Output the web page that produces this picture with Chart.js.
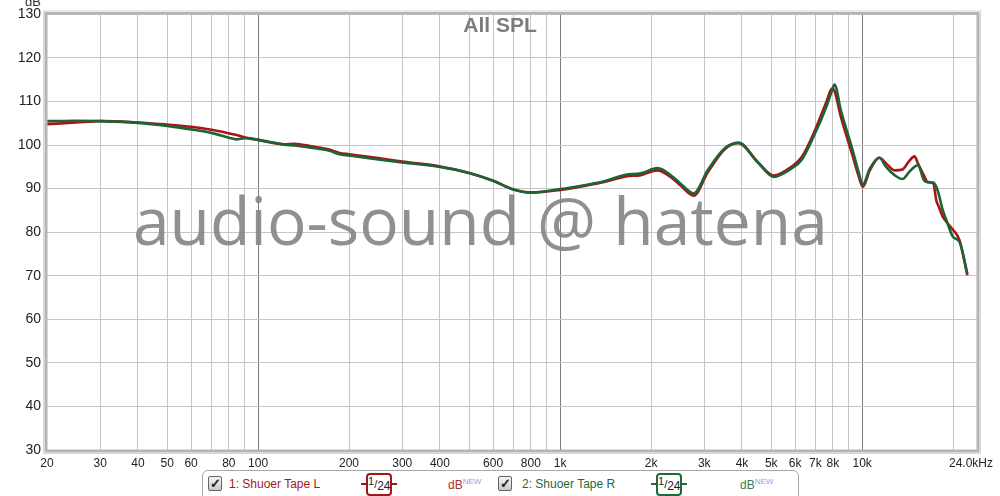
<!DOCTYPE html>
<html>
<head>
<meta charset="utf-8">
<script src="https://cdn.jsdelivr.net/npm/chart.js@4/dist/chart.umd.min.js"></script>
<style>
  html, body { margin: 0; padding: 0; background: #fff; }
  #wrap { position: relative; width: 1000px; height: 496px; overflow: hidden; font-family: "Liberation Sans", Arial, sans-serif; }
  canvas { position: absolute; left: 0; top: 0; }
  .lg { position: absolute; left: 202px; top: 470px; width: 595px; height: 40px; border: 1px solid #a8a8a8; border-radius: 6px; background: #fff; }
  .cb { position: absolute; top: 476px; width: 12px; height: 13px; border: 1px solid #666; border-radius: 2px; background: linear-gradient(#f4f4f4, #c8c8c8); font-size: 13px; line-height: 13px; text-align: center; color: #222; font-weight: bold; }
  .nm { position: absolute; top: 477px; font-size: 12px; }
  .oct { position: absolute; top: 473px; width: 22px; height: 19px; border-radius: 4px; font-size: 11px; line-height: 19px; text-align: center; color: #222; background: #fff; }
  .stub { position: absolute; top: 483px; height: 2px; }
  .db { position: absolute; top: 477px; font-size: 12px; }
  .db sup { font-size: 8px; color: #9a9ae6; vertical-align: 5px; }
</style>
</head>
<body>
<div id="wrap">
  <canvas id="c" width="1000" height="496"></canvas>
  <div class="lg"></div>
  <div class="cb" style="left:208px">✓</div>
  <div class="nm" style="left:229px;color:#9c1c1c">1: Shuoer Tape L</div>
  <div class="stub" style="left:361px;width:36px;background:#a01818"></div>
  <div class="oct" style="left:366px;border:2px solid #a01818"><span style="font-size:11px;position:relative;top:-3px">1</span>/<span style="font-size:12px;position:relative;top:2px">24</span></div>
  <div class="db" style="left:448px;color:#b03030">dB<sup>NEW</sup></div>
  <div class="cb" style="left:498px">✓</div>
  <div class="nm" style="left:522px;color:#1e6b3a">2: Shuoer Tape R</div>
  <div class="stub" style="left:651px;width:36px;background:#1e6b3a"></div>
  <div class="oct" style="left:656px;border:2px solid #1e6b3a"><span style="font-size:11px;position:relative;top:-3px">1</span>/<span style="font-size:12px;position:relative;top:2px">24</span></div>
  <div class="db" style="left:740px;color:#3a7a50">dB<sup>NEW</sup></div>
</div>
<script>
// ---- data (frequency in Hz, SPL in dB) ----
const freqs = [20, 25, 30, 40, 50, 60, 70, 80, 85, 90, 100, 110, 122, 132, 150, 172, 186, 200, 250, 300, 400, 500, 600, 700, 800, 1000, 1200, 1400, 1650, 1850, 2100, 2360, 2500, 2770, 3080, 3500, 3900, 4500, 5100, 5800, 6300, 6900, 7600, 7950, 8100, 8500, 9300, 9700, 10050, 10600, 11400, 12000, 12800, 13600, 14300, 14900, 15300, 16000, 16500, 17200, 17600, 17900, 18500, 19000, 20000, 21000, 22300];
const splL  = [104.8, 105.2, 105.5, 105.2, 104.7, 104.2, 103.5, 102.7, 102.3, 101.8, 101.2, 100.6, 100.2, 100.3, 99.7, 99.0, 98.2, 97.9, 97.0, 96.2, 95.1, 93.6, 91.8, 89.8, 89.1, 89.7, 90.6, 91.5, 92.8, 93.1, 94.2, 92.3, 90.8, 88.4, 93.7, 99.0, 100.5, 96.2, 93.0, 94.9, 97.2, 102.6, 109.8, 113.0, 112.4, 106.5, 97.5, 93.2, 90.4, 94.2, 97.1, 95.8, 94.2, 94.4, 96.3, 97.4, 95.8, 93.1, 91.5, 91.2, 87.3, 86.0, 83.5, 82.4, 80.5, 78.2, 70.1];
const splR  = [105.5, 105.6, 105.5, 105.1, 104.4, 103.6, 102.8, 101.7, 101.3, 101.6, 101.2, 100.7, 100.1, 99.9, 99.4, 98.7, 97.9, 97.6, 96.7, 96.0, 95.0, 93.6, 91.8, 89.8, 89.1, 89.9, 90.8, 91.7, 93.2, 93.5, 94.7, 92.7, 91.2, 88.9, 94.2, 99.2, 100.5, 96.1, 92.7, 94.5, 96.6, 101.9, 108.7, 112.6, 113.9, 108.0, 98.8, 94.2, 90.9, 94.6, 97.1, 95.0, 93.1, 92.2, 93.8, 95.0, 95.4, 92.0, 91.5, 91.4, 90.4, 88.9, 85.0, 82.8, 78.9, 77.8, 70.5];
const gridFreqs = [20, 30, 40, 50, 60, 70, 80, 90, 100, 200, 300, 400, 500, 600, 700, 800, 900, 1000, 2000, 3000, 4000, 5000, 6000, 7000, 8000, 9000, 10000, 20000, 24000];
const xTickLabels = {20: '20', 30: '30', 40: '40', 50: '50', 60: '60', 80: '80', 100: '100', 200: '200', 300: '300', 400: '400', 600: '600', 800: '800', 1000: '1k', 2000: '2k', 3000: '3k', 4000: '4k', 5000: '5k', 6000: '6k', 7000: '7k', 8000: '8k', 10000: '10k', 24000: '24.0kHz'};
const seriesNames = ['1: Shuoer Tape L', '2: Shuoer Tape R'];
const chartTitle = 'All SPL';
const watermark = 'audio-sound @ hatena';
const lastTick = 24000;

const toPts = (ys) => freqs.map((f, i) => ({x: f, y: ys[i]}));
const FONT = '"Liberation Sans", Arial, sans-serif';

const decorPlugin = {
  id: 'decor',
  beforeDatasetsDraw(chart) {
    const {ctx} = chart;
    ctx.save();
    // watermark
    let size = 66;
    ctx.font = size + 'px "Open Sans", "DejaVu Sans", sans-serif';
    const w = ctx.measureText(watermark).width;
    size = size * 695 / w;
    ctx.font = size + 'px "Open Sans", "DejaVu Sans", sans-serif';
    ctx.fillStyle = 'rgba(132,132,132,0.9)';
    ctx.textAlign = 'left';
    ctx.textBaseline = 'alphabetic';
    ctx.fillText(watermark, 133, 245);
    // title
    ctx.font = 'bold 21px ' + FONT;
    ctx.fillStyle = '#7c7c7c';
    ctx.textAlign = 'center';
    ctx.fillText(chartTitle, 500, 32);
    ctx.restore();
  },
  afterDraw(chart) {
    const {ctx, chartArea: a} = chart;
    const xs = chart.scales.x;
    ctx.save();
    ctx.strokeStyle = '#b4b4b4';
    ctx.lineWidth = 3;
    ctx.strokeRect(a.left - 1, a.top - 1, a.right - a.left + 2, a.bottom - a.top + 2);
    ctx.strokeStyle = '#d8d8d8';
    ctx.lineWidth = 1;
    ctx.strokeRect(a.left - 3.5, a.top - 3.5, a.right - a.left + 7, a.bottom - a.top + 7);
    // dB unit
    ctx.font = '13px ' + FONT;
    ctx.fillStyle = '#333';
    ctx.textAlign = 'right';
    ctx.textBaseline = 'bottom';
    ctx.fillText('dB', 41, 9);
    // last x tick label (kept out of layout so it does not shrink the plot)
    ctx.font = '12px ' + FONT;
    ctx.fillStyle = '#222';
    ctx.textAlign = 'center';
    ctx.textBaseline = 'top';
    ctx.fillText(xTickLabels[lastTick], xs.getPixelForValue(lastTick) - 6, a.bottom + 8);
    ctx.restore();
  }
};

new Chart(document.getElementById('c'), {
  type: 'line',
  data: {
    datasets: [
      {label: seriesNames[0], data: toPts(splL), order: 1, borderColor: '#aa1418', borderWidth: 2.6, pointRadius: 0, cubicInterpolationMode: 'monotone', fill: false},
      {label: seriesNames[1], data: toPts(splR), order: 0, borderColor: '#1e6236', borderWidth: 2.6, pointRadius: 0, cubicInterpolationMode: 'monotone', fill: false}
    ]
  },
  options: {
    responsive: false,
    animation: false,
    events: [],
    layout: {padding: {top: 14, right: 23, left: 0, bottom: 0}},
    plugins: {legend: {display: false}, title: {display: false}, tooltip: {enabled: false}},
    scales: {
      x: {
        type: 'logarithmic',
        min: 20, max: 24000,
        afterBuildTicks: (s) => { s.ticks = gridFreqs.map(v => ({value: v})); },
        afterFit: (s) => { s.height = 46; },
        border: {display: false},
        grid: {
          drawTicks: false,
          color: (c) => {
            const v = c.tick && c.tick.value;
            if (v === 20 || v === 24000) return 'rgba(0,0,0,0)';
            if (v === 100 || v === 1000 || v === 10000) return '#7a7a7a';
            return '#c6c6c6';
          }
        },
        ticks: {
          autoSkip: false, maxRotation: 0, padding: 6,
          color: '#222',
          font: {size: 12, family: FONT},
          callback: (v) => (v === lastTick ? '' : (xTickLabels[v] || ''))
        }
      },
      y: {
        min: 30, max: 130,
        afterFit: (s) => { s.width = 47; },
        border: {display: false},
        grid: {drawTicks: false, color: (c) => (c.tick.value === 30 || c.tick.value === 130) ? 'rgba(0,0,0,0)' : '#c6c6c6'},
        ticks: {stepSize: 10, padding: 6, color: '#222', font: {size: 14, family: FONT}}
      }
    }
  },
  plugins: [decorPlugin]
});
</script>
</body>
</html>
